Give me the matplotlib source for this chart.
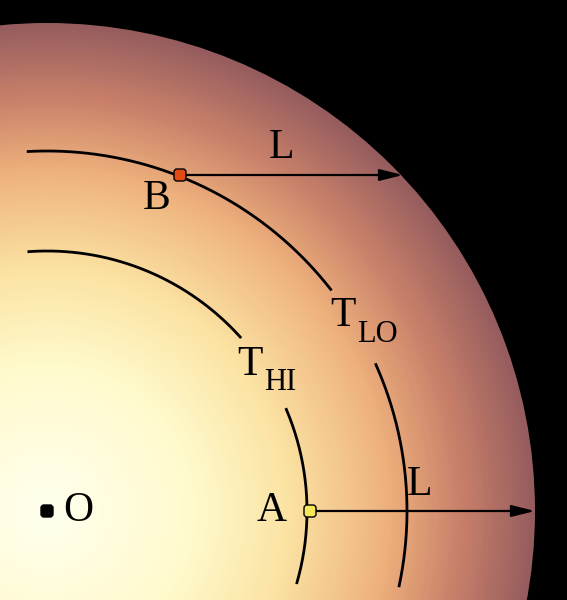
import numpy as np
import matplotlib.pyplot as plt
from matplotlib.colors import LinearSegmentedColormap
from matplotlib.patches import Circle, FancyBboxPatch

# geometry in pixel coordinates (y grows downward)
center = (47, 511)
disc_radius = 488
arc_radii = [260, 360]
arc_segments = [[(-16, 23), (42, 94)], [(-12, 24), (38, 93)]]
B_xy = (180, 175)
A_xy = (310, 511)
arrow_ends = [(403, 175), (535, 511)]

fig = plt.figure(figsize=(5.67, 6.0), dpi=100)
ax = fig.add_axes([0, 0, 1, 1])
ax.set_xlim(0, 567)
ax.set_ylim(600, 0)
ax.set_facecolor("black")
fig.patch.set_facecolor("black")
ax.axis("off")

cmap = LinearSegmentedColormap.from_list(
    "heat", [(0.0, "#ffffee"), (0.3, "#fffacc"), (0.5, "#fbe2a2"),
             (0.7, "#eeb07c"), (0.85, "#c8806a"), (1.0, "#955c5e")])
xx, yy = np.meshgrid(np.arange(567) + 0.5, np.arange(600) + 0.5)
rr = np.hypot(xx - center[0], yy - center[1]) / disc_radius
img = cmap(np.clip(rr, 0, 1))
ax.imshow(img, extent=(0, 567, 600, 0), zorder=0)
clip = Circle(center, disc_radius, transform=ax.transData)
ax.images[0].set_clip_path(clip)

for r, segs in zip(arc_radii, arc_segments):
    for a0, a1 in segs:
        t = np.radians(np.linspace(a0, a1, 200))
        ax.plot(center[0] + r * np.cos(t), center[1] - r * np.sin(t),
                color="black", lw=2, zorder=2)

for start, end in zip([B_xy, A_xy], arrow_ends):
    ax.annotate("", xy=end, xytext=start, zorder=3,
                arrowprops=dict(arrowstyle="-|>,head_length=1.4,head_width=0.35",
                                color="black", lw=1.6, shrinkA=0, shrinkB=0))

for (x, y), col in [(B_xy, "#e04a16"), (A_xy, "#f5e85a"), (center, "black")]:
    ax.add_patch(FancyBboxPatch((x - 6, y - 6), 12, 12,
                                boxstyle="round,pad=0,rounding_size=3",
                                fc=col, ec="black", lw=1, zorder=4))

fs = 30
kw = dict(family="Liberation Serif", fontsize=fs, color="black", zorder=5)
ax.text(282, 148, "L", ha="center", va="center", **kw)
ax.text(157, 199, "B", ha="center", va="center", **kw)
ax.text(272, 511, "A", ha="center", va="center", **kw)
ax.text(78, 511, "O", ha="center", va="center", **kw)
ax.text(420, 485, "L", ha="center", va="center", **kw)
ax.text(330, 316, "T", ha="left", va="center", **kw)
ax.text(357, 334, "LO", ha="left", va="center", **dict(kw, fontsize=22))
ax.text(237, 365, "T", ha="left", va="center", **kw)
ax.text(264, 383, "HI", ha="left", va="center", **dict(kw, fontsize=22))

fig.savefig("out.png", dpi=100, facecolor="black")
